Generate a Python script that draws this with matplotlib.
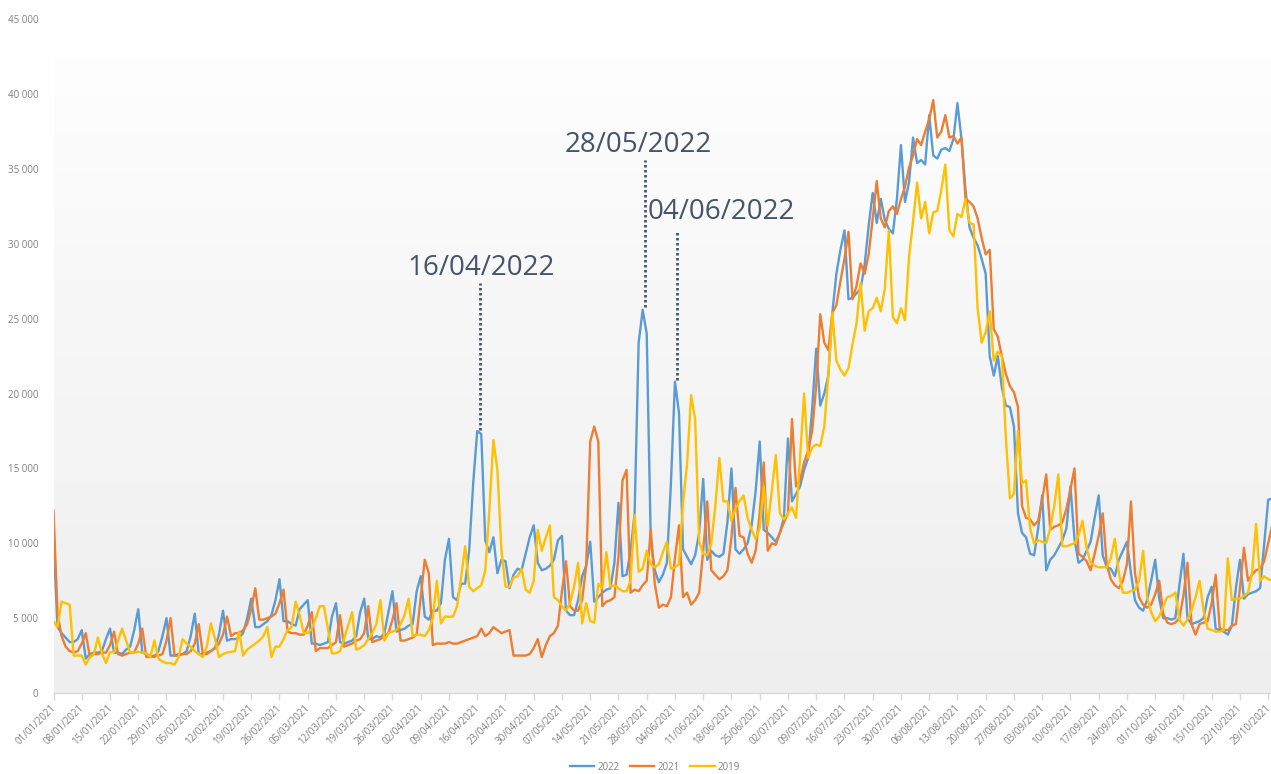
import numpy as np
import matplotlib
matplotlib.use("Agg")
import matplotlib.pyplot as plt
import matplotlib.transforms as mtransforms
from matplotlib.colors import LinearSegmentedColormap

plt.rcParams['font.family'] = ['Open Sans', 'DejaVu Sans']

# ---------------- data (values in thousands, one per day from 01/01) ----------------
series_names = ["2022", "2021", "2019"]

values_2022 = [
    10.3, 4.4, 4.0, 3.7, 3.4, 3.4, 3.6,
    4.2, 2.3, 2.6, 2.7, 2.7, 2.8, 3.6,
    4.3, 2.7, 2.7, 2.6, 2.9, 3.1, 4.2,
    5.6, 2.7, 2.6, 2.5, 2.4, 2.8, 3.8,
    5.0, 2.5, 2.5, 2.6, 2.6, 2.8, 3.8,
    5.3, 2.6, 2.6, 2.7, 2.8, 3.0, 3.9,
    5.5, 3.5, 3.6, 3.6, 3.7, 4.0, 5.0,
    6.3, 4.4, 4.4, 4.6, 4.8, 5.2, 6.2,
    7.6, 4.8, 4.8, 4.6, 4.5, 5.6, 5.9,
    6.2, 3.3, 3.3, 3.2, 3.3, 3.4, 5.1,
    6.0, 3.4, 3.3, 3.4, 3.5, 3.8, 5.4,
    6.3, 3.6, 3.6, 3.8, 3.7, 4.0, 5.4,
    6.8, 4.1, 4.2, 4.3, 4.5, 4.6, 6.8,
    7.8, 5.1, 4.9, 5.5, 5.5, 6.0, 8.9,
    10.3, 6.4, 6.2, 7.3, 7.3, 9.5, 14.0,
    17.5, 17.3, 10.2, 9.4, 10.4, 8.0, 8.9,
    8.8, 7.0, 7.9, 8.3, 8.2, 9.3, 10.4,
    11.2, 8.7, 8.2, 8.3, 8.5, 8.9, 10.2,
    10.5, 5.5, 5.2, 5.2, 6.2, 7.8, 8.5,
    10.1, 6.1, 6.4, 6.7, 6.9, 7.0, 8.7,
    12.7, 7.8, 7.9, 9.5, 12.0, 23.4, 25.6,
    24.0, 10.2, 8.2, 7.4, 7.9, 8.7, 14.0,
    20.8, 18.7, 9.6, 9.1, 8.6, 9.2, 10.7,
    14.3, 8.9, 9.5, 9.2, 9.1, 9.3, 11.4,
    15.0, 9.6, 9.3, 9.6, 10.0, 11.2, 13.5,
    16.8, 10.9, 10.7, 10.4, 10.1, 10.7, 11.7,
    17.0, 12.8, 13.3, 13.8, 14.9, 15.7, 19.0,
    23.0, 19.2, 20.0, 21.2, 25.4, 28.0, 29.6,
    30.9, 26.3, 26.4, 26.7, 27.0, 28.6, 31.2,
    33.4, 31.4, 33.0, 31.6, 31.0, 30.7, 33.0,
    36.6, 32.8, 34.1, 37.1, 35.4, 35.6, 35.3,
    38.6, 35.9, 35.7, 36.3, 36.4, 36.2, 37.0,
    39.4, 37.0, 33.6, 31.1, 30.4, 29.9, 29.0,
    28.0, 22.5, 21.2, 22.5, 20.4, 19.2, 19.1,
    17.8, 12.0, 10.7, 10.4, 9.3, 9.2, 11.0,
    13.2, 8.2, 8.9, 9.2, 9.7, 10.2, 11.0,
    13.8, 10.3, 8.7, 8.9, 9.5, 10.1, 11.7,
    13.2, 9.2, 8.4, 8.3, 7.8, 8.9, 9.5,
    10.1, 8.0, 6.2, 5.7, 5.5, 6.2, 7.5,
    8.9, 6.3, 5.0, 5.0, 4.9, 5.0, 7.2,
    9.3, 5.0, 4.6, 4.7, 4.8, 5.0, 6.4,
    7.1, 4.3, 4.2, 4.1, 3.9, 4.5, 7.0,
    8.9, 6.3, 6.6, 6.7, 6.8, 7.0, 9.9,
    12.9, 13.0, 12.5,
]

values_2021 = [
    12.2, 5.3, 3.8, 3.1, 2.8, 2.7, 2.8,
    3.3, 4.0, 2.4, 2.6, 2.6, 2.7, 2.7,
    3.2, 4.1, 2.6, 2.5, 2.6, 2.7, 2.7,
    3.3, 4.3, 2.4, 2.4, 2.5, 2.5, 2.6,
    3.5, 5.0, 2.5, 2.5, 2.6, 2.6, 2.8,
    3.3, 4.6, 2.6, 2.6, 2.8, 3.0, 3.3,
    3.9, 5.1, 3.8, 4.0, 4.0, 4.2, 4.6,
    5.6, 7.0, 4.9, 4.9, 5.0, 5.1, 5.3,
    6.0, 6.9, 4.1, 4.0, 4.0, 3.9, 3.9,
    4.5, 5.4, 2.8, 3.0, 3.0, 3.0, 3.2,
    3.4, 5.2, 3.1, 3.2, 3.3, 3.5, 3.6,
    4.0, 5.8, 3.4, 3.5, 3.6, 3.8, 4.0,
    4.9, 6.0, 3.5, 3.5, 3.6, 3.7, 3.9,
    6.4, 8.9, 8.0, 3.2, 3.3, 3.3, 3.3,
    3.4, 3.3, 3.3, 3.4, 3.5, 3.6, 3.7,
    3.8, 4.3, 3.8, 4.0, 4.4, 4.2, 4.0,
    4.1, 4.2, 2.5, 2.5, 2.5, 2.5, 2.6,
    3.0, 3.6, 2.4, 3.2, 3.8, 4.0, 4.5,
    6.8, 8.8, 5.8, 5.5, 5.5, 6.2, 8.5,
    16.8, 17.8, 16.8, 5.8, 6.1, 6.2, 6.4,
    9.1, 14.2, 14.9, 6.7, 6.9, 6.8, 7.2,
    7.5, 10.9, 7.3, 5.7, 5.9, 5.8, 6.4,
    9.0, 11.2, 6.4, 6.7, 5.9, 6.2, 6.7,
    9.5, 12.8, 8.2, 7.9, 7.6, 7.8, 8.2,
    10.4, 13.7, 10.5, 10.4, 9.3, 8.7, 9.5,
    12.0, 15.4, 9.5, 10.0, 9.9, 10.7, 11.4,
    12.0, 18.3, 13.8, 14.2, 15.4, 16.2, 17.5,
    20.5, 25.3, 23.4, 22.9, 25.4, 25.9, 27.5,
    29.0, 30.8, 26.3, 27.2, 28.7, 28.0, 29.3,
    31.7, 34.2, 31.7, 31.1, 32.2, 32.5, 32.0,
    33.0, 33.8, 35.1, 35.9, 37.0, 36.6, 37.5,
    38.3, 39.6, 37.1, 37.5, 38.6, 37.1, 37.2,
    36.7, 37.1, 33.0, 32.8, 32.5, 31.7, 30.4,
    29.3, 29.6, 24.3, 23.8, 22.5, 21.3, 20.5,
    20.1, 19.1, 12.5, 11.7, 11.6, 11.2, 11.5,
    12.9, 14.6, 10.9, 11.1, 11.2, 11.4, 12.3,
    13.6, 15.0, 9.3, 9.1, 8.8, 8.2, 9.3,
    10.5, 12.0, 8.6, 7.6, 7.2, 7.0, 7.5,
    8.6, 12.8, 8.0, 6.4, 5.9, 5.7, 5.9,
    6.6, 7.5, 5.3, 4.7, 4.6, 4.7, 5.0,
    6.5, 8.7, 4.6, 3.9, 4.6, 4.7, 4.8,
    6.0, 7.9, 4.3, 4.2, 4.2, 4.5, 4.6,
    7.0, 9.7, 7.5, 7.9, 8.2, 8.3, 8.8,
    10.0, 11.2, 11.0,
]

values_2019 = [
    4.8, 4.4, 6.1, 6.0, 5.9, 2.5, 2.5,
    2.5, 1.9, 2.4, 2.6, 3.7, 2.65, 2.0,
    2.7, 2.75, 3.5, 4.3, 3.5, 2.7, 2.7,
    2.75, 2.7, 2.65, 2.4, 3.5, 2.3, 2.1,
    2.0, 2.0, 1.9, 2.4, 3.6, 3.3, 3.1,
    2.8, 2.6, 2.4, 3.1, 4.65, 3.65, 2.4,
    2.6, 2.7, 2.75, 2.8, 4.1, 2.5, 2.9,
    3.1, 3.3, 3.5, 3.8, 4.4, 2.4, 3.1,
    3.1, 3.6, 4.2, 4.4, 6.1, 5.2, 4.0,
    4.0, 4.3, 5.0, 5.8, 5.8, 4.3, 2.65,
    2.65, 2.8, 3.6, 4.5, 5.4, 2.9, 3.0,
    3.2, 3.6, 4.0, 4.6, 6.2, 3.5, 4.0,
    4.1, 4.2, 4.6, 5.2, 6.3, 3.8, 3.9,
    3.9, 3.8, 4.2, 5.0, 7.5, 4.65, 5.1,
    5.1, 5.1, 5.8, 7.7, 9.8, 7.1, 6.8,
    7.0, 7.2, 8.2, 12.2, 16.9, 14.9, 9.5,
    7.1, 7.1, 7.7, 7.8, 8.3, 6.9, 6.7,
    7.5, 10.9, 9.5, 10.4, 11.2, 6.4, 6.2,
    5.8, 5.5, 6.0, 7.1, 8.7, 4.65, 6.0,
    4.8, 4.7, 7.3, 7.0, 9.4, 7.1, 7.2,
    7.0, 6.8, 6.8, 7.5, 11.9, 8.1, 8.3,
    9.5, 8.6, 8.4, 8.6, 9.4, 10.1, 8.3,
    8.4, 8.6, 12.7, 15.3, 19.9, 18.3, 10.1,
    9.3, 9.2, 10.0, 12.5, 15.7, 12.8, 12.8,
    11.5, 12.3, 12.8, 13.2, 11.7, 10.9, 10.3,
    11.0, 13.8, 11.2, 13.5, 15.9, 12.0, 11.6,
    12.0, 12.4, 11.7, 15.7, 20.0, 15.7, 16.4,
    16.6, 16.5, 17.8, 21.2, 25.4, 22.2, 21.6,
    21.2, 21.7, 23.3, 24.7, 27.4, 24.2, 25.5,
    25.7, 26.4, 25.5, 27.0, 30.9, 25.1, 24.7,
    25.7, 24.9, 29.1, 31.5, 34.1, 31.7, 32.8,
    30.7, 32.1, 32.2, 33.6, 35.3, 30.9, 30.5,
    32.0, 31.8, 33.0, 31.4, 31.3, 25.7, 23.4,
    24.1, 25.5, 22.2, 22.8, 22.5, 17.0, 13.0,
    13.3, 17.5, 14.0, 14.2, 11.0, 10.0, 10.2,
    10.1, 10.0, 11.0, 12.5, 14.6, 9.8, 9.8,
    9.9, 10.0, 10.5, 11.5, 9.7, 8.7, 8.5,
    8.4, 8.4, 8.4, 9.0, 10.3, 8.0, 6.7,
    6.7, 6.8, 6.9, 7.5, 9.5, 6.4, 5.4,
    4.8, 5.1, 5.8, 6.4, 6.5, 6.7, 4.9,
    4.5, 4.9, 5.5, 6.4, 7.5, 5.5, 4.3,
    4.2, 4.1, 4.1, 4.2, 9.0, 6.2, 6.3,
    6.3, 6.5, 6.7, 8.0, 11.3, 7.5, 7.8,
    7.6, 7.5, 7.4,
]

tick_labels = [
    "01/01/2021", "08/01/2021", "15/01/2021", "22/01/2021", "29/01/2021",
    "05/02/2021", "12/02/2021", "19/02/2021", "26/02/2021", "05/03/2021",
    "12/03/2021", "19/03/2021", "26/03/2021", "02/04/2021", "09/04/2021",
    "16/04/2021", "23/04/2021", "30/04/2021", "07/05/2021", "14/05/2021",
    "21/05/2021", "28/05/2021", "04/06/2021", "11/06/2021", "18/06/2021",
    "25/06/2021", "02/07/2021", "09/07/2021", "16/07/2021", "23/07/2021",
    "30/07/2021", "06/08/2021", "13/08/2021", "20/08/2021", "27/08/2021",
    "03/09/2021", "10/09/2021", "17/09/2021", "24/09/2021", "01/10/2021",
    "08/10/2021", "15/10/2021", "22/10/2021", "29/10/2021",
]
y_tick_values = [0, 5000, 10000, 15000, 20000, 25000, 30000, 35000, 40000, 45000]
y_tick_labels = ["0", "5 000", "10 000", "15 000", "20 000", "25 000",
                 "30 000", "35 000", "40 000", "45 000"]

# annotations: label, day index of marked peak, line bottom / top, text position
annot_labels = ["16/04/2022", "28/05/2022", "04/06/2022"]
annot_days = [105.7, 146.5, 154.5]
annot_line_low = [17600, 25800, 20900]
annot_line_high = [27400, 35600, 30800]
annot_text_x = [87.6, 126.7, 147.3]
annot_text_y = [28400, 36600, 32100]

colors = ["#5b9bd5", "#ed7d31", "#ffc000"]

# ---------------- figure ----------------
W, H = 1271, 774
fig = plt.figure(figsize=(W / 100, H / 100), dpi=100)
left_px, right_px, top_px, bottom_px = 53.5, 1271, 19.3, 693
ax = fig.add_axes([left_px / W, 1 - bottom_px / H,
                   (right_px - left_px) / W, (bottom_px - top_px) / H])

xmax = 301.7
ymax = 45000
ax.set_xlim(0, xmax)
ax.set_ylim(0, ymax)

# gradient background of the plot area
grad = np.linspace(0, 1, 256).reshape(-1, 1)
cmap = LinearSegmentedColormap.from_list("bg", ["#eeeeee", "#f6f6f6", "#ffffff"])
ax.imshow(grad, extent=[0, xmax, 0, ymax], origin="lower", aspect="auto",
          cmap=cmap, zorder=0, interpolation="bicubic")

all_series = [values_2022, values_2021, values_2019]
for name, vals, col in zip(series_names, all_series, colors):
    y = np.array(vals) * 1000
    x = np.arange(len(y))
    ax.plot(x, y, color=col, lw=1.7, label=name, zorder=2,
            solid_joinstyle="round")

# annotations
ann_color = "#44546a"
for lab, d, lo, hi, tx, ty in zip(annot_labels, annot_days, annot_line_low,
                                   annot_line_high, annot_text_x, annot_text_y):
    ax.plot([d, d], [lo, hi], color=ann_color, lw=2.0,
            linestyle=(0, (0.9, 0.9)), zorder=3)
    ax.text(tx, ty, lab, fontsize=20, color=ann_color, ha="left",
            va="center", zorder=4)

# axes styling
for s in ["top", "right", "left"]:
    ax.spines[s].set_visible(False)
ax.spines["bottom"].set_color("#d9d9d9")
ax.spines["bottom"].set_linewidth(1.0)

ax.set_xticks(np.arange(0, 7 * len(tick_labels), 7))
ax.set_xticklabels(tick_labels, rotation=45, ha="right",
                   rotation_mode="anchor")
ax.tick_params(axis="x", length=5, width=1, color="#d9d9d9",
               labelsize=7, labelcolor="#808080", pad=2)
shift = mtransforms.ScaledTranslation(-3 / 100, 0, fig.dpi_scale_trans)
for lbl in ax.get_xticklabels():
    lbl.set_transform(lbl.get_transform() + shift)

ax.set_yticks(y_tick_values)
ax.set_yticklabels(y_tick_labels)
ax.tick_params(axis="y", length=0, labelsize=7, labelcolor="#808080", pad=11)

# legend
handles, labels = ax.get_legend_handles_labels()
fig.legend(handles, labels, loc="center", ncol=3, frameon=False,
           bbox_to_anchor=(655 / W, 1 - 767 / H), fontsize=7,
           labelcolor="#808080", handlelength=2.5, handletextpad=0.3,
           columnspacing=1.1)

fig.savefig("out.png", dpi=100)
